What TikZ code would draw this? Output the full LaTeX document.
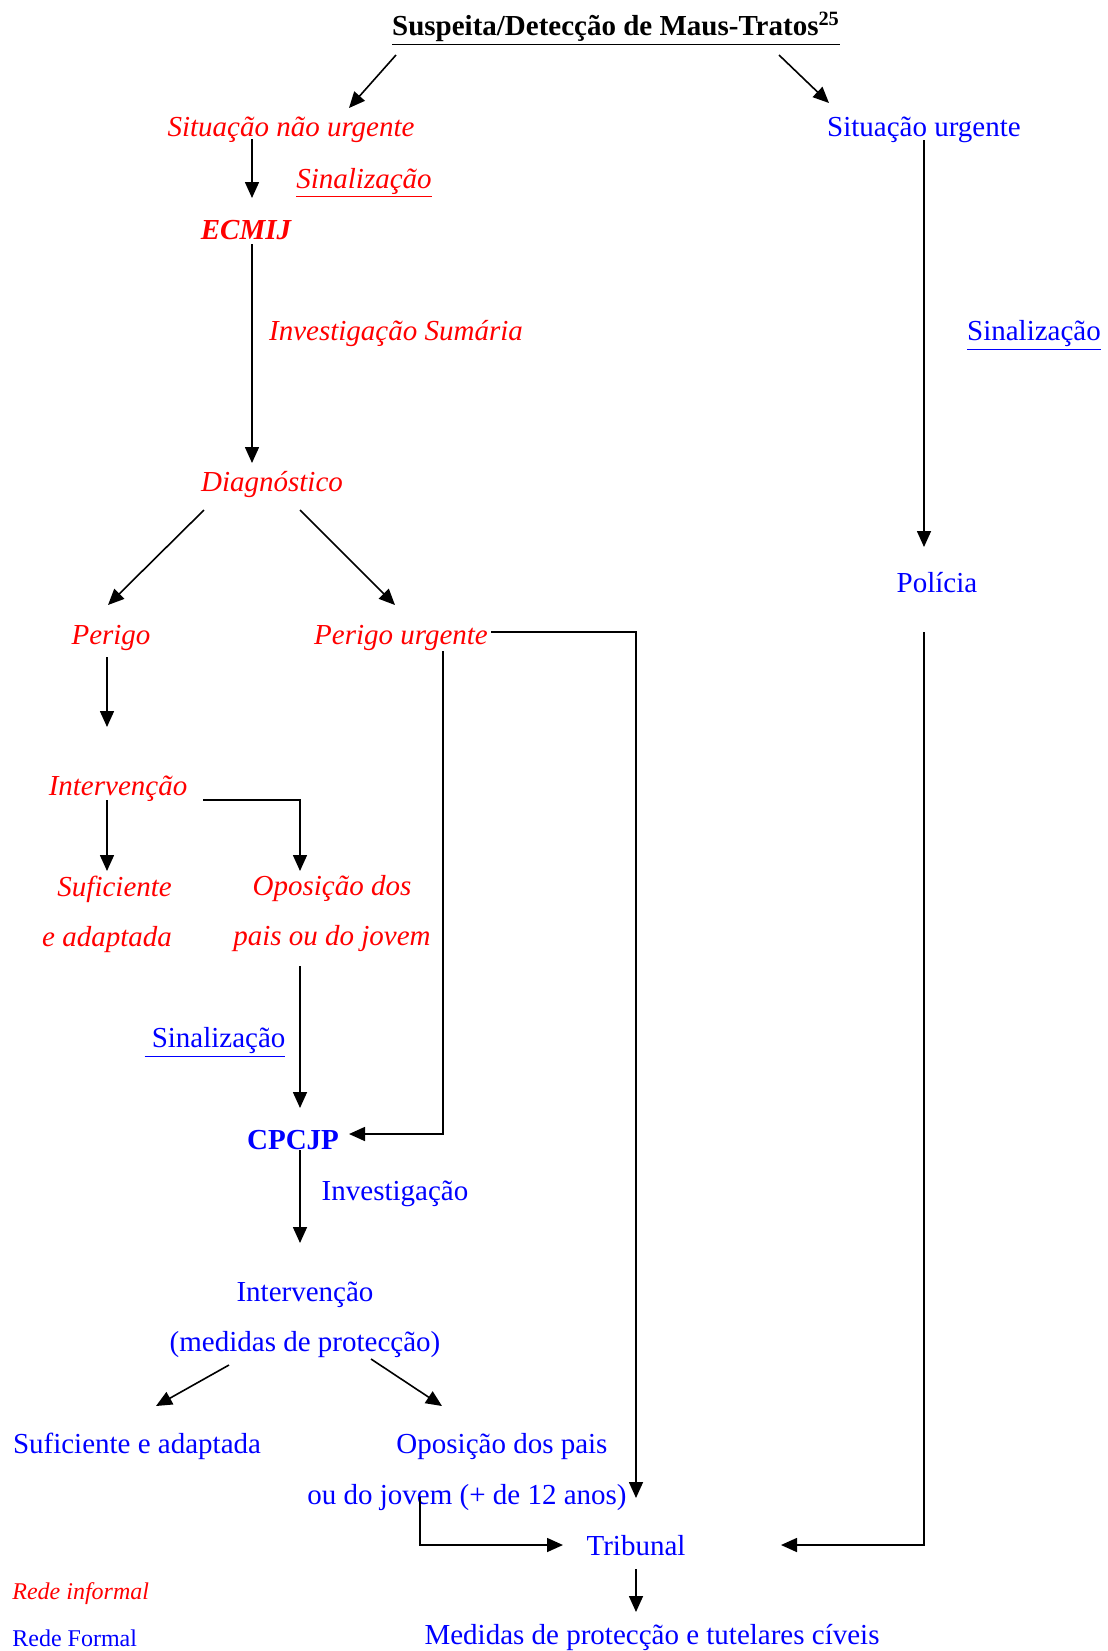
\documentclass[tikz,border=0pt]{standalone}
\usepackage{fontspec}
\setmainfont{Liberation Serif}
\usetikzlibrary{arrows.meta}

\tikzset{
  every node/.style={inner sep=0pt},
  informal/.style={text=red, font=\fontsize{14.5}{25}\selectfont\itshape},
  formal/.style={text=blue, font=\fontsize{14.5}{25}\selectfont},
  oneline/.style={text height=13pt, text depth=3pt},
  arr/.style={-{Triangle[length=8pt,width=7pt]}, line width=0.8pt},
  link/.style={line width=0.8pt}
}

\begin{document}
\begin{tikzpicture}[x=0.5pt, y=-0.5pt]
    \useasboundingbox (0,0) rectangle (1108,1651);

    % title
    \node[font=\fontsize{14.5}{25}\selectfont\bfseries] (title) at (616,29) {\underline{Suspeita/Detecção de Maus-Tratos\textsuperscript{25}}};

    % rede informal
    \node[informal, oneline] (sitnu) at (291,126) {Situação não urgente};
    \node[informal, oneline] (sinalA) at (364,178) {\underline{Sinalização}};
    \node[informal, oneline] (ecmij) at (246,229) {\textbf{ECMIJ}};
    \node[informal, oneline] (invsum) at (396,330) {Investigação Sumária};
    \node[informal, oneline] (diag) at (272,481) {Diagnóstico};
    \node[informal, oneline] (perigo) at (111,634) {Perigo};
    \node[informal, oneline] (perurg) at (401,634) {Perigo urgente};
    \node[informal, oneline] (interv) at (118,785) {Intervenção};
    \node[informal, align=right] (sufic) at (107,914) {Suficiente\\e adaptada};
    \node[informal, align=center] (opos) at (332,914) {Oposição dos\\pais ou do jovem};

    % rede formal
    \node[formal, oneline] (situ) at (924,126) {Situação urgente};
    \node[formal, oneline] (sinalB) at (1034,330) {\underline{Sinalização}};
    \node[formal, oneline] (policia) at (937,582) {Polícia};
    \node[formal, oneline] (sinalC) at (215,1037) {\underline{\ Sinalização}};
    \node[formal, oneline] (cpcjp) at (293,1139) {\textbf{CPCJP}};
    \node[formal, oneline] (invest) at (395,1190) {Investigação};
    \node[formal, align=center] (intervB) at (305,1320) {Intervenção\\(medidas de protecção)};
    \node[formal, oneline] (suficB) at (137,1443) {Suficiente e adaptada};
    \node[formal, oneline] (oposB) at (502,1443) {Oposição dos pais};
    \node[formal, oneline] (jovem) at (467,1494) {ou do jovem (+ de 12 anos)};
    \node[formal, oneline] (tribunal) at (636,1545) {Tribunal};
    \node[formal, oneline] (medidas) at (652,1634) {Medidas de protecção e tutelares cíveis};

    % legend
    \node[text=red, font=\fontsize{12}{14}\selectfont\itshape, anchor=west] (redeinf) at (12,1594) {Rede informal};
    \node[text=blue, font=\fontsize{12}{14}\selectfont, anchor=west] (redefor) at (12,1638) {Rede Formal};

    % connectors
    \draw[arr] ([shift={(-220,26)}]title.center) -- ([shift={(58,-18)}]sitnu.center);
    \draw[arr] ([shift={(163,26)}]title.center) -- ([shift={(-95,-23)}]situ.center);
    \draw[arr] ([shift={(-39,13)}]sitnu.center) -- ([shift={(6,-31)}]ecmij.center);
    \draw[arr] ([shift={(6,15)}]ecmij.center) -- ([shift={(-20,-18)}]diag.center);
    \draw[arr] ([shift={(-68,29)}]diag.center) -- ([shift={(-3,-29)}]perigo.center);
    \draw[arr] ([shift={(28,29)}]diag.center) -- ([shift={(-6,-29)}]perurg.center);
    \draw[arr] ([shift={(-4,23)}]perigo.center) -- ([shift={(-11,-58)}]interv.center);
    \draw[arr] ([shift={(-11,15)}]interv.center) -- ([shift={(0,-43)}]sufic.center);
    \draw[arr] ([shift={(85,15)}]interv.center) -| ([shift={(-32,-43)}]opos.center);
    \draw[arr] ([shift={(-32,52)}]opos.center) -- ([shift={(7,-31)}]cpcjp.center);
    \draw[arr] ([shift={(42,17)}]perurg.center) |- ([shift={(56,-5)}]cpcjp.center);
    \draw[arr] ([shift={(90,-2)}]perurg.center) -| ([shift={(0,-47)}]tribunal.center);
    \draw[arr] ([shift={(7,11)}]cpcjp.center) -- ([shift={(-5,-77)}]intervB.center);
    \draw[arr] ([shift={(-76,45)}]intervB.center) -- ([shift={(19,-37)}]suficB.center);
    \draw[arr] ([shift={(66,39)}]intervB.center) -- ([shift={(-60,-37)}]oposB.center);
    \draw[arr] ([shift={(-47,3)}]jovem.center) |- ([shift={(-73,0)}]tribunal.center);
    \draw[arr] ([shift={(0,14)}]situ.center) -- ([shift={(-13,-35)}]policia.center);
    \draw[arr] ([shift={(-13,50)}]policia.center) |- ([shift={(145,0)}]tribunal.center);
    \draw[arr] ([shift={(0,24)}]tribunal.center) -- ([shift={(-16,-22)}]medidas.center);
\end{tikzpicture}
\end{document}
